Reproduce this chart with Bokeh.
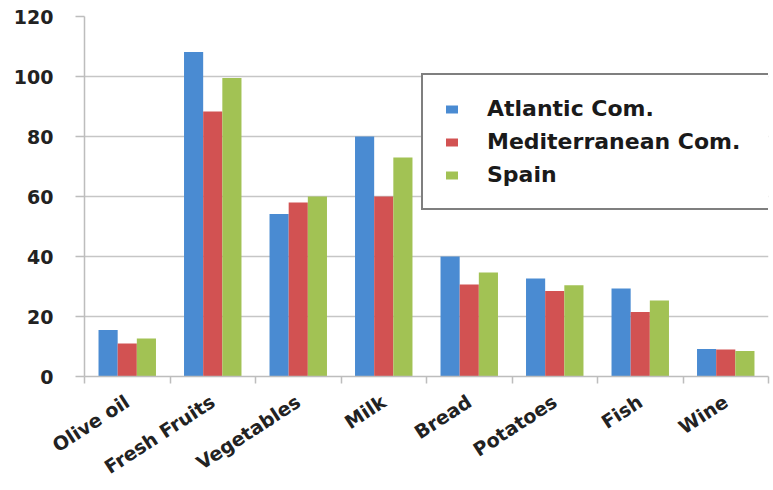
from bokeh.plotting import figure
from bokeh.models import (ColumnDataSource, Range1d, FixedTicker, Legend, LegendItem)
from bokeh.embed import file_html
from bokeh.resources import INLINE

# Food consumption per group
categories = ["Olive oil", "Fresh Fruits", "Vegetables", "Milk", "Bread", "Potatoes", "Fish", "Wine"]
atlantic = [15.5, 108.2, 54.2, 80.0, 40.0, 32.7, 29.3, 9.2]
mediterranean = [11.0, 88.3, 58.0, 60.0, 30.7, 28.5, 21.5, 9.0]
spain = [12.7, 99.5, 60.0, 73.0, 34.7, 30.4, 25.3, 8.5]
series_names = ["Atlantic Com.", "Mediterranean Com.", "Spain"]
series_colors = ["#4a8bd2", "#d25252", "#a2c254"]
y_ticks = [0, 20, 40, 60, 80, 100, 120]

FONT = "DejaVu Sans"
TEXT_COLOR = "#222222"
n = len(categories)
bar_w = 0.224

p = figure(width=773, height=490, output_backend="svg", toolbar_location=None,
           x_range=Range1d(0, n), y_range=Range1d(0, 120))
p.min_border_left = 84
p.min_border_right = 5
p.min_border_top = 16
p.min_border_bottom = 114
p.outline_line_color = None
p.background_fill_color = "white"
p.border_fill_color = "white"

centers = [i + 0.5 for i in range(n)]
renderers = []
for k, (vals, color) in enumerate(zip([atlantic, mediterranean, spain], series_colors)):
    src = ColumnDataSource(dict(x=[c + (k - 1) * bar_w for c in centers], top=vals))
    r = p.vbar(x="x", top="top", width=bar_w, source=src,
               fill_color=color, line_color=None)
    renderers.append(r)

# grid
p.xgrid.grid_line_color = None
p.ygrid.grid_line_color = "#c6c6c6"
p.ygrid.grid_line_width = 1.5

# y axis
p.yaxis.ticker = FixedTicker(ticks=y_ticks)
p.yaxis.axis_line_color = "#bdbdbd"
p.yaxis.axis_line_width = 1.5
p.yaxis.major_tick_line_color = "#bdbdbd"
p.yaxis.major_tick_line_width = 1.5
p.yaxis.major_tick_out = 9
p.yaxis.major_tick_in = 0
p.yaxis.minor_tick_line_color = None
p.yaxis.major_label_standoff = 22
p.yaxis.major_label_text_font = FONT
p.yaxis.major_label_text_font_style = "bold"
p.yaxis.major_label_text_font_size = "19px"
p.yaxis.major_label_text_color = TEXT_COLOR

# x axis: names at category centres, ticks at category boundaries
p.xaxis.ticker = FixedTicker(ticks=centers, minor_ticks=list(range(n + 1)))
p.xaxis.major_label_overrides = {c: name for c, name in zip(centers, categories)}
p.xaxis.axis_line_color = "#bdbdbd"
p.xaxis.axis_line_width = 1.5
p.xaxis.major_tick_line_color = None
p.xaxis.minor_tick_line_color = "#bdbdbd"
p.xaxis.minor_tick_line_width = 1.5
p.xaxis.minor_tick_out = 7
p.xaxis.minor_tick_in = 0
p.xaxis.major_label_orientation = 0.576
p.xaxis.major_label_standoff = 16
p.xaxis.major_label_text_font = FONT
p.xaxis.major_label_text_font_style = "bold"
p.xaxis.major_label_text_font_size = "19px"
p.xaxis.major_label_text_color = TEXT_COLOR

legend = Legend(
    items=[LegendItem(label=name, renderers=[r]) for name, r in zip(series_names, renderers)],
    location=(337, 166),
    orientation="vertical",
    border_line_color="black",
    border_line_width=2,
    background_fill_color="white",
    background_fill_alpha=1.0,
    padding=21,
    spacing=8,
    glyph_width=15,
    glyph_height=10,
    label_height=22,
    label_standoff=28,
    label_width=264,
    label_text_font=FONT,
    label_text_font_style="bold",
    label_text_font_size="22px",
    label_text_color="#1a1a1a",
    label_text_baseline="middle",
)
p.add_layout(legend)

open("out.html", "w").write(file_html(p, INLINE))
